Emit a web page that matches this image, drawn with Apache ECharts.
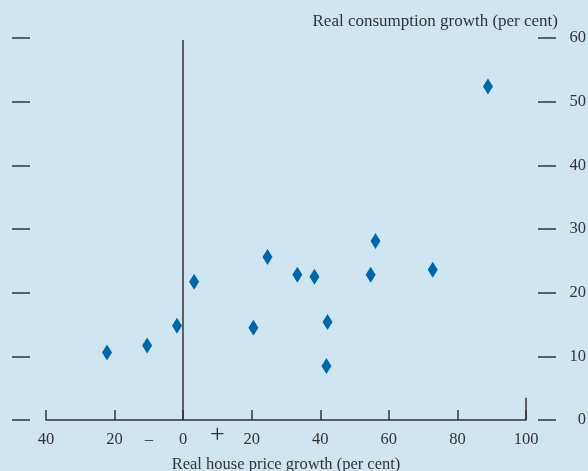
<!DOCTYPE html>
<html><head><meta charset="utf-8">
<script src="https://cdn.jsdelivr.net/npm/echarts@6/dist/echarts.min.js"></script>
<style>html,body{margin:0;padding:0;background:#cfe6f0}#c{width:588px;height:471px}</style>
</head><body><div id="c"></div>
<script>
// Data
const houseGrowth = [-22.2, -10.5, -1.8, 3.2, 20.5, 24.6, 33.3, 38.3, 42.1, 41.8, 54.7, 56.1, 72.8, 88.9];
const consGrowth  = [10.6, 11.7, 14.8, 21.7, 14.5, 25.6, 22.8, 22.5, 15.4, 8.5, 22.8, 28.1, 23.6, 52.4];
const xTickValues = [-40, -20, 0, 20, 40, 60, 80, 100];
const xLabelValues = [-40, -20, -10, 0, 10, 20, 40, 60, 80, 100];
const yTitle = 'Real consumption growth (per cent)';
const xTitle = 'Real house price growth (per cent)';

const FONT = '"Liberation Serif", "DejaVu Serif", serif';
const INK = '#333333';
const chart = echarts.init(document.getElementById('c'), null, {renderer: 'canvas'});
chart.setOption({
  backgroundColor: '#cfe6f0',
  animation: false,
  title: {
    text: yTitle, right: 25, top: 8,
    textStyle: {fontFamily: FONT, fontSize: 17, fontWeight: 'normal', color: INK}
  },
  grid: {left: 46, right: 62, top: 38, bottom: 51, outerBoundsMode: 'none', containLabel: false},
  xAxis: {
    type: 'value', min: -40, max: 100, interval: 20,
    name: xTitle, nameLocation: 'middle', nameGap: 36,
    nameTextStyle: {fontFamily: FONT, fontSize: 16.5, color: INK},
    axisLine: {show: true, onZero: false, lineStyle: {color: INK, width: 1.5}},
    axisTick: {show: true, inside: true, length: 10, customValues: xTickValues, lineStyle: {color: INK, width: 1.5}},
    axisLabel: {
      customValues: xLabelValues, margin: 11,
      fontFamily: FONT, fontSize: 16.5, color: INK,
      formatter: function (v) {
        if (v === -10) return '–';
        if (v === 10) return '{p|+}';
        return String(Math.abs(v));
      },
      rich: {p: {fontFamily: FONT, fontSize: 26, color: INK, lineHeight: 8}}
    },
    splitLine: {show: false}
  },
  yAxis: [{
    type: 'value', min: 0, max: 60, interval: 10, position: 'right', offset: 12,
    axisLine: {show: false, onZero: false},
    axisTick: {show: true, length: 18, lineStyle: {color: INK, width: 1.5}},
    axisLabel: {margin: 48, align: 'right', fontFamily: FONT, fontSize: 16.5, color: INK},
    splitLine: {show: false}
  }, {
    type: 'value', min: 0, max: 60, interval: 10, position: 'left', offset: 16,
    axisLine: {show: false, onZero: false},
    axisTick: {show: true, length: 18, lineStyle: {color: INK, width: 1.5}},
    axisLabel: {show: false},
    splitLine: {show: false}
  }],
  series: [{
    type: 'scatter', yAxisIndex: 0,
    symbol: 'diamond', symbolSize: [10, 16],
    itemStyle: {color: '#0067a6', opacity: 1},
    data: houseGrowth.map((x, i) => [x, consGrowth[i]]),
    markLine: {
      silent: true, symbol: 'none', label: {show: false},
      lineStyle: {color: INK, width: 1.5, type: 'solid'},
      data: [
        [{coord: [0, 0]}, {coord: [0, 59.7]}],
        [{coord: [100, 0]}, {coord: [100, 3.5]}]
      ]
    }
  }]
});
</script></body></html>
